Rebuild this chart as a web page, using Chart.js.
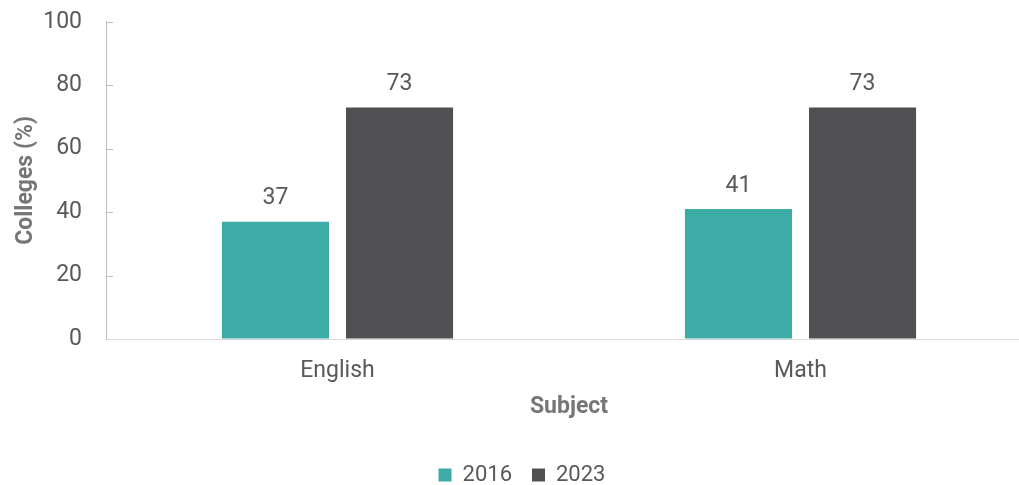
<!DOCTYPE html>
<html>
<head>
<meta charset="utf-8">
<script src="https://cdn.jsdelivr.net/npm/chart.js@4"></script>
<style>
  html, body { margin: 0; padding: 0; background: #fff; overflow: hidden; }
  /* plot runs a little past the right edge of the window, like the original */
  #wrap { width: 1032px; height: 485px; }
</style>
</head>
<body>
<div id="wrap"><canvas id="myChart"></canvas></div>
<script>
// chart data
const subjects = ['English', 'Math'];
const years = ['2016', '2023'];
const values2016 = [37, 41];
const values2023 = [73, 73];
const yTicks = [0, 20, 40, 60, 80, 100];

const colors = ['#3daba6', '#505052'];

// draws the value above each bar
const barLabels = {
    id: 'barLabels',
    afterDatasetsDraw(chart) {
        const ctx = chart.ctx;
        ctx.save();
        ctx.font = '23px Roboto';
        ctx.fillStyle = '#595959';
        ctx.textAlign = 'center';
        ctx.textBaseline = 'middle';
        chart.data.datasets.forEach(function(ds, i) {
            chart.getDatasetMeta(i).data.forEach(function(bar, j) {
                ctx.fillText(ds.data[j], bar.x, bar.y - 23);
            });
        });
        ctx.restore();
    }
};

// small tick marks pointing into the plot on the y axis
const innerTicks = {
    id: 'innerTicks',
    afterDraw(chart) {
        const y = chart.scales.y;
        const ctx = chart.ctx;
        ctx.save();
        ctx.strokeStyle = '#bfbfbf';
        ctx.lineWidth = 1;
        yTicks.forEach(function(v) {
            if (v === 0) return;
            const py = Math.round(y.getPixelForValue(v)) + 0.5;
            ctx.beginPath();
            ctx.moveTo(y.right, py);
            ctx.lineTo(y.right + 7, py);
            ctx.stroke();
        });
        ctx.restore();
    }
};

const ctx = document.getElementById('myChart').getContext('2d');
const myChart = new Chart(ctx, {
    type: 'bar',
    data: {
        labels: subjects,
        datasets: [{
            label: years[0],
            data: values2016,
            backgroundColor: colors[0],
            categoryPercentage: 0.536,
            barPercentage: 0.863
        }, {
            label: years[1],
            data: values2023,
            backgroundColor: colors[1],
            categoryPercentage: 0.536,
            barPercentage: 0.863
        }]
    },
    options: {
        responsive: true,
        maintainAspectRatio: false,
        animation: false,
        layout: {
            padding: { top: 0, right: 0, bottom: 0, left: 12 }
        },
        plugins: {
            legend: {
                position: 'bottom',
                maxHeight: 41,
                labels: {
                    boxWidth: 13,
                    boxHeight: 13,
                    padding: 20,
                    color: '#595959',
                    font: { family: 'Roboto', size: 22 }
                }
            },
            tooltip: { enabled: false }
        },
        scales: {
            x: {
                grid: { display: false, drawTicks: false },
                border: { color: '#d9d9d9', width: 1 },
                ticks: {
                    color: '#595959',
                    padding: 18,
                    font: { family: 'Roboto', size: 23 }
                },
                title: {
                    display: true,
                    text: 'Subject',
                    color: '#767676',
                    padding: { top: 0, bottom: 23 },
                    font: { family: 'Roboto', size: 23, weight: 'bold' }
                },
                afterFit: function(scale) { scale.height = 105; }
            },
            y: {
                min: 0,
                max: 100,
                afterBuildTicks: function(scale) {
                    scale.ticks = yTicks.map(function(v) { return { value: v }; });
                },
                // invisible tick marks just to push the labels left
                grid: {
                    display: true,
                    drawOnChartArea: false,
                    drawTicks: true,
                    tickLength: 16,
                    color: 'rgba(0,0,0,0)'
                },
                border: { color: '#bfbfbf', width: 1 },
                ticks: {
                    color: '#595959',
                    padding: 8,
                    font: { family: 'Roboto', size: 23 }
                },
                title: {
                    display: true,
                    text: 'Colleges (%)',
                    color: '#767676',
                    padding: { top: 0, bottom: 0 },
                    font: { family: 'Roboto', size: 23, weight: 'bold' }
                },
                afterFit: function(scale) { scale.width = 94; }
            }
        }
    },
    plugins: [barLabels, innerTicks]
});
</script>
</body>
</html>
